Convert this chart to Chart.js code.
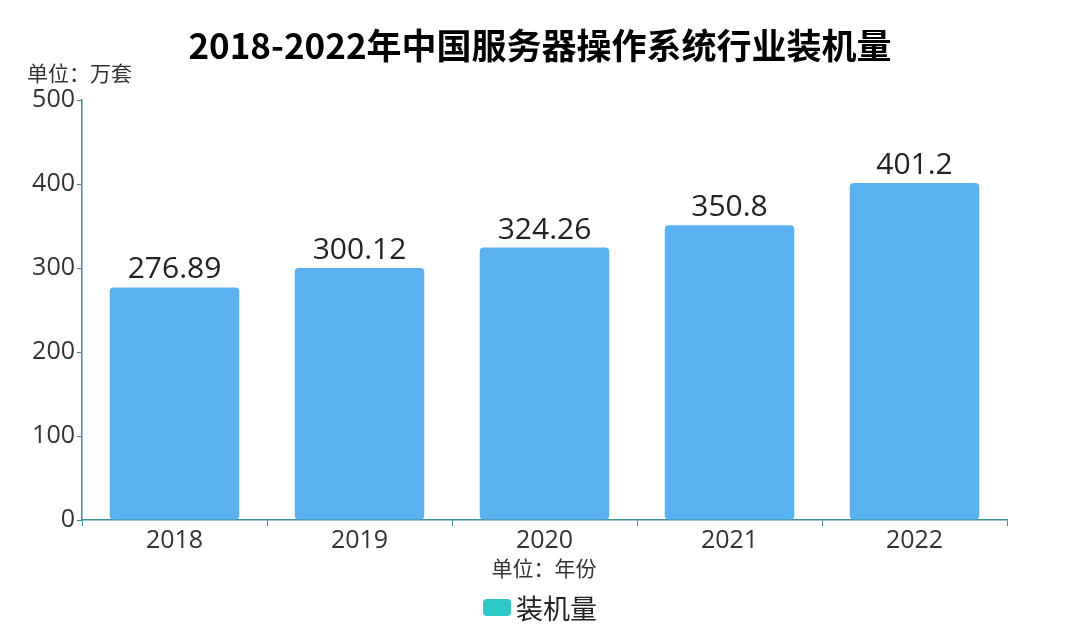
<!DOCTYPE html>
<html><head><meta charset="utf-8">
<script src="https://cdn.jsdelivr.net/npm/chart.js@4/dist/chart.umd.min.js"></script>
<style>html,body{margin:0;padding:0;background:#fff}#wrap{width:1080px;height:627px}</style>
</head><body><div id="wrap"><canvas id="c" width="1080" height="627"></canvas></div>
<script>
const categories = ["2018","2019","2020","2021","2022"];
const values = [276.89, 300.12, 324.26, 350.8, 401.2];
const yTicks = [0,100,200,300,400,500];
const seriesName = "装机量";
const titleText = "2018-2022年中国服务器操作系统行业装机量";
const yUnit = "单位：万套";
const xUnit = "单位：年份";

const FONT = '"Open Sans","Noto Sans CJK SC",sans-serif';
const CJK = '"Noto Sans CJK SC","Open Sans",sans-serif';
const AXIS = '#3a8e96';

const extras = {
  id:'extras',
  afterDatasetsDraw(chart){
    const ctx = chart.ctx, x = chart.scales.x, y = chart.scales.y;
    ctx.save();
    // data labels
    ctx.font = '30px ' + FONT; ctx.fillStyle = '#222'; ctx.textAlign='center'; ctx.textBaseline='alphabetic';
    values.forEach((v,i)=>{ ctx.fillText(String(v), x.getPixelForValue(i), y.getPixelForValue(v) - 9); });
    // title
    ctx.font = 'bold 35px ' + CJK; ctx.fillStyle = '#000';
    ctx.textBaseline='middle'; ctx.fillText(titleText, 540, 46);
    // y unit
    ctx.font = '21px ' + CJK; ctx.fillStyle = '#333'; ctx.textAlign='left';
    ctx.fillText(yUnit, 27, 73);
    // x unit
    ctx.textAlign='center'; ctx.fillText(xUnit, 544, 568);
    // legend
    const lx = 483, ly = 599, lw = 28, lh = 17;
    ctx.fillStyle = '#2ec7c9';
    ctx.beginPath(); ctx.roundRect(lx, ly, lw, lh, 4); ctx.fill();
    ctx.font = '27px ' + CJK; ctx.fillStyle = '#222'; ctx.textAlign='left';
    ctx.fillText(seriesName, lx + lw + 5, ly + lh/2 + 1);
    ctx.restore();
  }
};

new Chart(document.getElementById('c'), {
  type:'bar',
  data:{ labels: categories, datasets:[{ label: seriesName, data: values, backgroundColor:'#5ab1ef',
    borderRadius:4, borderSkipped:false, barPercentage:0.7, categoryPercentage:1.0 }]},
  options:{
    responsive:false, animation:false, devicePixelRatio:1,
    layout:{ padding:{ left:0, right:73, top:100, bottom:0 } },
    plugins:{ legend:{display:false}, title:{display:false}, tooltip:{enabled:false} },
    scales:{
      x:{
        grid:{ display:true, drawOnChartArea:false, drawTicks:true, tickLength:6, color:AXIS, offset:true },
        border:{ display:true, color:AXIS, width:1.5 },
        ticks:{ font:{ size:25, family:FONT }, color:'#333', padding:0 },
        afterFit(s){ s.height = 107; }
      },
      y:{
        min:0, max:500,
        afterBuildTicks(s){ s.ticks = yTicks.map(v=>({value:v})); },
        grid:{ display:true, drawOnChartArea:false, drawTicks:true, tickLength:5, color:AXIS },
        border:{ display:true, color:AXIS, width:1.5 },
        ticks:{ font:{ size:25, family:FONT }, color:'#333', padding:2 },
        afterFit(s){ s.width = 82; }
      }
    }
  },
  plugins:[extras]
});
</script></body></html>
